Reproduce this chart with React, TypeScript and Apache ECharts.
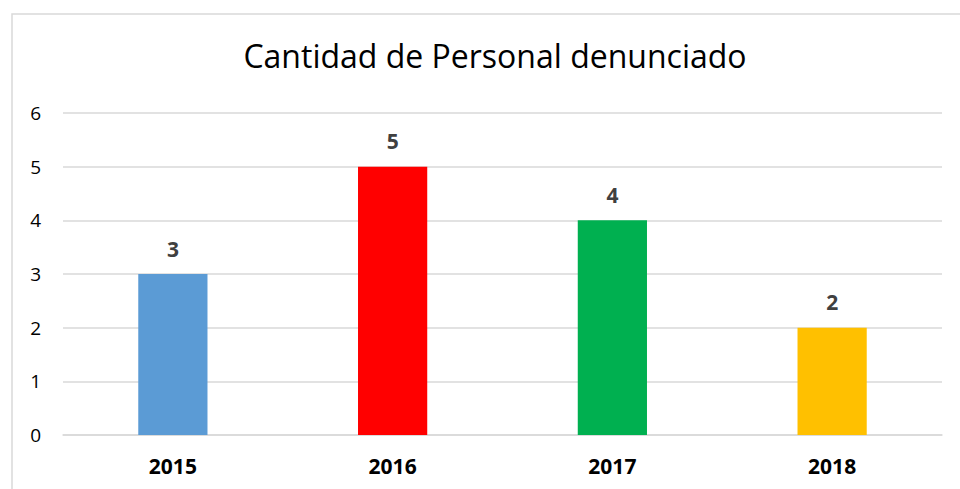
import React, { useEffect, useRef } from "react";
import * as echarts from "echarts";

const categories = ["2015", "2016", "2017", "2018"];
const values = [3, 5, 4, 2];
const barColors = ["#5B9BD5", "#FF0000", "#00B050", "#FFC000"];
const yTicks = [0, 1, 2, 3, 4, 5, 6];
const titleText = "Cantidad de Personal denunciado";

export default function App() {
  const ref = useRef<HTMLDivElement>(null);
  useEffect(() => {
    document.body.style.margin = "0";
    const chart = echarts.init(ref.current!, null, { renderer: "svg" });
    const font = "'Open Sans', 'Noto Sans', sans-serif";
    chart.setOption({
      animation: false,
      backgroundColor: "#ffffff",
      textStyle: { fontFamily: font },
      title: {
        text: titleText,
        left: 490,
        top: 34,
        textAlign: "center",
        textStyle: { fontSize: 32, fontWeight: "normal", color: "#000000", fontFamily: font },
      },
      graphic: [
        {
          type: "rect",
          shape: { x: 12, y: 14, width: 960, height: 500 },
          style: { fill: "none", stroke: "#d9d9d9", lineWidth: 1.5 },
          silent: true,
        },
      ],
      grid: { left: 63, right: 18, top: 113, bottom: 54 },
      xAxis: {
        type: "category",
        data: categories,
        axisLine: { show: true, lineStyle: { color: "#d9d9d9", width: 1.5 } },
        axisTick: { show: false },
        axisLabel: { fontSize: 21, fontWeight: "bold", color: "#000000", margin: 20, fontFamily: font },
      },
      yAxis: {
        type: "value",
        min: yTicks[0],
        max: yTicks[yTicks.length - 1],
        interval: 1,
        axisLine: { show: false },
        axisTick: { show: false },
        splitLine: { lineStyle: { color: "#d9d9d9", width: 1.5 } },
        axisLabel: { fontSize: 19, color: "#000000", margin: 22, fontFamily: font },
      },
      series: [
        {
          type: "bar",
          barWidth: "31.5%",
          data: values.map((v, i) => ({ value: v, itemStyle: { color: barColors[i] } })),
          label: {
            show: true,
            position: "top",
            distance: 15,
            fontSize: 21,
            fontWeight: "bold",
            color: "#404040",
            fontFamily: font,
          },
        },
      ],
    });
    return () => chart.dispose();
  }, []);
  return <div ref={ref} style={{ width: 960, height: 489 }} />;
}
